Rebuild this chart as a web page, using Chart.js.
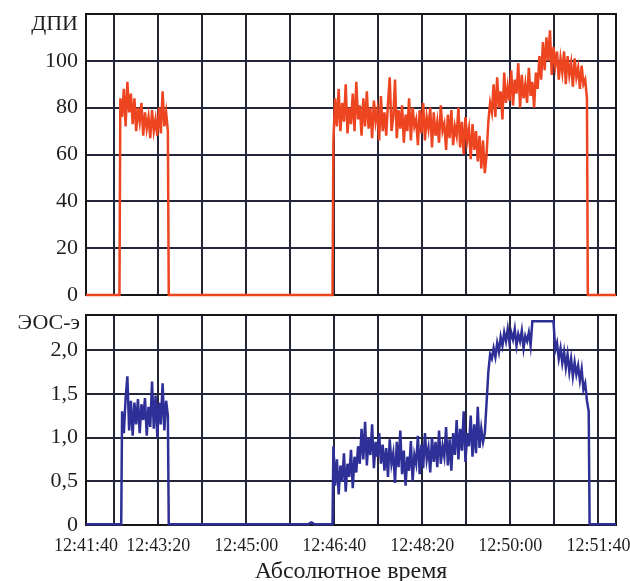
<!DOCTYPE html>
<html>
<head>
<meta charset="utf-8">
<script src="https://cdn.jsdelivr.net/npm/chart.js@4.4.1/dist/chart.umd.min.js"></script>
<style>
  html, body { margin: 0; padding: 0; background: #fff; overflow: hidden; }
  #wrap { position: relative; width: 630px; height: 581px; }
  .box { position: absolute; left: 0; width: 630px; }
  #topBox { top: 0; height: 312px; }
  #botBox { top: 300px; height: 286px; }
</style>
</head>
<body>
<div id="wrap">
  <div class="box" id="topBox"><canvas id="dpiChart"></canvas></div>
  <div class="box" id="botBox"><canvas id="eosChart"></canvas></div>
</div>
<script>
// time axis in seconds after 12:41:40
const xMin = 18, xMax = 620;
const gridTicks = [18, 50, 100, 150, 200, 250, 300, 350, 400, 450, 500, 550, 600];
const xTickValues = [18, 100, 200, 300, 400, 500, 600];
const xTickLabels = ["12:41:40", "12:43:20", "12:45:00", "12:46:40", "12:48:20", "12:50:00", "12:51:40"];
const sampleStep = 2; // seconds between samples

// ДПИ
const dpiSeg1Start = 57;
const dpiSeg1 = [84, 76, 88, 72, 91, 78, 86, 73, 84, 70, 80, 74, 82, 68, 78, 71, 76, 67, 79, 70,
  75, 68, 80, 69, 87, 72, 78, 70];
const dpiSeg2Start = 299;
const dpiSeg2 = [
  66, 84, 72, 88, 70, 82, 74, 90, 69, 80,
  73, 86, 70, 91, 75, 81, 68, 84, 72, 87,
  71, 80, 67, 83, 74, 79, 66, 85, 70, 78,
  68, 82, 93, 70, 76, 92, 67, 79, 71, 81,
  65, 77, 70, 84, 66, 80, 72, 75, 64, 79,
  69, 82, 66, 76, 71, 80, 63, 78, 68, 74,
  65, 81, 70, 73, 62, 77, 67, 79, 64, 72,
  68, 80, 63, 74, 60, 76, 66, 71, 58, 73,
  62, 70, 57, 68, 54, 66, 52, 60, 74, 82,
  78, 90, 76, 93, 80, 87, 75, 95, 82, 89,
  83, 96, 81, 92, 86, 99, 80, 94, 84, 90,
  82, 97, 85, 91, 80, 95, 88, 102, 92, 108,
  96, 110, 100, 113, 94, 106, 98, 104, 92, 101,
  95, 104, 90, 102, 94, 99, 89, 101, 93, 97,
  88, 98, 90, 92, 84];

// ЭОС-э
const eosBase = 0.01;
const eosSeg1Start = 59;
const eosSeg1 = [1.30, 1.05, 1.45, 1.70, 1.08, 1.42, 1.02, 1.40, 1.15, 1.44, 1.05, 1.38, 1.20, 1.45,
  1.02, 1.35, 1.12, 1.64, 1.10, 1.48, 1.00, 1.40, 1.15, 1.62, 1.08, 1.42, 1.25];
const eosBumpStart = 272;
const eosBump = [0.02, 0.03, 0.02];
const eosSeg2Start = 299;
const eosSeg2 = [
  0.90, 0.45, 0.75, 0.35, 0.68, 0.50, 0.82, 0.38, 0.70, 0.55,
  0.86, 0.42, 0.78, 0.60, 0.90, 0.70, 1.10, 0.75, 1.18, 0.68,
  1.00, 0.80, 1.15, 0.65, 0.95, 0.78, 1.05, 0.70, 0.92, 0.62,
  0.88, 0.55, 0.98, 0.70, 0.82, 0.48, 0.95, 0.66, 1.08, 0.58,
  0.85, 0.45, 0.78, 0.62, 0.96, 0.50, 0.80, 0.70, 1.02, 0.58,
  0.92, 0.65, 1.05, 0.75, 0.88, 0.60, 1.00, 0.72, 0.95, 0.66,
  1.08, 0.70, 0.90, 0.78, 1.12, 0.68, 0.98, 0.62, 1.05, 0.80,
  1.20, 0.75, 1.10, 0.85, 1.30, 0.72, 1.05, 0.90, 1.25, 0.78,
  1.15, 0.82, 1.35, 0.88, 1.10, 0.95, 1.05, 1.40, 1.75, 1.95,
  1.90, 2.02, 1.92, 2.08, 1.98, 2.15, 2.05, 2.20, 2.10, 2.24,
  2.08, 2.20, 2.12, 2.24, 2.05, 2.18, 2.10, 2.22, 2.02, 2.16,
  2.10, 2.20, 2.05, 2.33, 2.33, 2.33, 2.33, 2.33, 2.33, 2.33,
  2.33, 2.33, 2.33, 2.33, 2.33, 2.33, 2.00, 2.08, 1.90, 2.02,
  1.85, 1.98, 1.80, 1.95, 1.75, 1.90, 1.70, 1.86, 1.72, 1.82,
  1.65, 1.78, 1.55, 1.62, 1.42, 1.30];

const serif = "'Liberation Serif', 'DejaVu Serif', serif";
const gridColor = "#25253a";
const textColor = "#1e1e1e";

function buildPoints(segments, base) {
  const pts = [{ x: xMin, y: base }];
  segments.forEach(function (s) {
    pts.push({ x: s.start - 1, y: base });
    s.values.forEach(function (v, i) { pts.push({ x: s.start + i * sampleStep, y: v }); });
    pts.push({ x: s.start + (s.values.length - 1) * sampleStep + 1, y: base });
  });
  pts.push({ x: xMax, y: base });
  return pts;
}

// frame around plot area + unit label at top left
const framePlugin = {
  id: "frame",
  beforeDatasetsDraw(chart) {
    const a = chart.chartArea, ctx = chart.ctx;
    ctx.save();
    ctx.strokeStyle = "#161616";
    ctx.lineWidth = 2;
    ctx.strokeRect(a.left, a.top, a.right - a.left, a.bottom - a.top);
    ctx.restore();
  },
  afterDraw(chart, args, opts) {
    const a = chart.chartArea, ctx = chart.ctx;
    ctx.save();
    ctx.font = opts.size + "px " + serif;
    ctx.fillStyle = textColor;
    ctx.textAlign = "right";
    ctx.textBaseline = "middle";
    ctx.fillText(opts.text, a.left - opts.dx, a.top + opts.dy);
    ctx.restore();
  }
};

function xScale(showLabels) {
  return {
    type: "linear",
    min: xMin,
    max: xMax,
    afterBuildTicks(s) { s.ticks = gridTicks.map(function (v) { return { value: v }; }); },
    afterFit(s) { s.height = showLabels ? 61 : 17; s.paddingLeft = 0; s.paddingRight = 0; },
    ticks: {
      display: showLabels,
      autoSkip: false,
      maxRotation: 0,
      padding: 10,
      color: textColor,
      font: { family: serif, size: 18 },
      callback(v) {
        const i = xTickValues.indexOf(v);
        return i >= 0 ? xTickLabels[i] : "";
      }
    },
    grid: { color: gridColor, lineWidth: 2, drawTicks: false },
    border: { display: true, color: "#161616", width: 2 },
    title: {
      display: showLabels,
      text: "Абсолютное время",
      color: textColor,
      font: { family: serif, size: 24 },
      padding: 0
    }
  };
}

function yScale(max, step, fmt) {
  return {
    min: 0,
    max: max,
    afterFit(s) { s.width = 86; s.paddingTop = 0; s.paddingBottom = 0; },
    ticks: {
      stepSize: step,
      padding: 8,
      color: textColor,
      font: { family: serif, size: 22 },
      callback: fmt
    },
    grid: { color: gridColor, lineWidth: 2, drawTicks: false },
    border: { display: true, color: "#161616", width: 2 }
  };
}

new Chart(document.getElementById("dpiChart"), {
  type: "line",
  data: {
    datasets: [{
      data: buildPoints([{ start: dpiSeg1Start, values: dpiSeg1 }, { start: dpiSeg2Start, values: dpiSeg2 }], 0),
      borderColor: "#ec4520",
      borderWidth: 2.5,
      pointRadius: 0,
      tension: 0,
      clip: 4
    }]
  },
  options: {
    responsive: true,
    maintainAspectRatio: false,
    animation: false,
    layout: { padding: { top: 14, right: 14, left: 0, bottom: 0 } },
    plugins: {
      legend: { display: false },
      tooltip: { enabled: false },
      frame: { text: "ДПИ", size: 22, dx: 8, dy: 10 }
    },
    scales: {
      x: xScale(false),
      y: yScale(120, 20, function (v) { return v > 110 ? "" : String(v); })
    }
  },
  plugins: [framePlugin]
});

new Chart(document.getElementById("eosChart"), {
  type: "line",
  data: {
    datasets: [{
      data: buildPoints([
        { start: eosSeg1Start, values: eosSeg1 },
        { start: eosBumpStart, values: eosBump },
        { start: eosSeg2Start, values: eosSeg2 }
      ], eosBase),
      borderColor: "#2f2f98",
      borderWidth: 2.5,
      pointRadius: 0,
      tension: 0,
      clip: 4
    }]
  },
  options: {
    responsive: true,
    maintainAspectRatio: false,
    animation: false,
    layout: { padding: { top: 15, right: 14, left: 0, bottom: 0 } },
    plugins: {
      legend: { display: false },
      tooltip: { enabled: false },
      frame: { text: "ЭОС-э", size: 22, dx: 6, dy: 8 }
    },
    scales: {
      x: xScale(true),
      y: yScale(2.4, 0.5, function (v) {
        if (v > 2.3) return "";
        return v === 0 ? "0" : v.toFixed(1).replace(".", ",");
      })
    }
  },
  plugins: [framePlugin]
});
</script>
</body>
</html>
